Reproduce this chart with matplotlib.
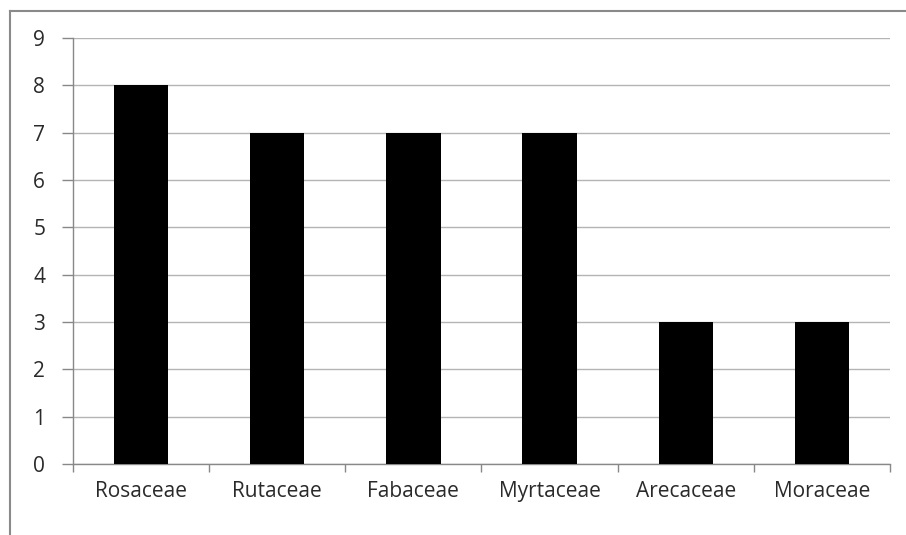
import matplotlib
matplotlib.use("Agg")
import matplotlib.pyplot as plt
from matplotlib.lines import Line2D
import numpy as np

categories = ["Rosaceae", "Rutaceae", "Fabaceae", "Myrtaceae", "Arecaceae", "Moraceae"]
values = [8, 7, 7, 7, 3, 3]
yticks = list(range(0, 10))

plt.rcParams['font.family'] = ['Open Sans', 'DejaVu Sans']

fig = plt.figure(figsize=(9.06, 5.35), dpi=100)
ax = fig.add_axes([73/906, 1-464/535, (890-73)/906, (464-38)/535])

x = np.arange(len(categories))
ax.bar(x, values, width=0.4, color="black", zorder=3)
ax.set_xlim(-0.5, len(categories) - 0.5)
ax.set_ylim(0, 9)
ax.set_yticks(yticks)
ax.set_yticklabels([str(v) for v in yticks], fontsize=15, color="#2a2a2a")
ax.yaxis.grid(True, color="#b4b4b4", linewidth=1, zorder=0)
ax.set_axisbelow(True)

ax.set_xticks(x)
ax.set_xticklabels(categories, fontsize=15, color="#2a2a2a")
ax.tick_params(axis='x', length=0, pad=12)
ax.set_xticks(np.arange(-0.5, len(categories)), minor=True)
ax.tick_params(axis='x', which='minor', length=6, color="#888888", width=1)
ax.tick_params(axis='y', length=8, color="#888888", width=1, pad=12)

for s in ["top", "right"]:
    ax.spines[s].set_visible(False)
for s in ["left", "bottom"]:
    ax.spines[s].set_color("#888888")
    ax.spines[s].set_linewidth(1)

# outer chart border (top and left visible)
fig.add_artist(Line2D([9.5/906, 1.0], [1-10.5/535, 1-10.5/535], transform=fig.transFigure, color="#8a8a8a", linewidth=1.5))
fig.add_artist(Line2D([9.5/906, 9.5/906], [0, 1-10.5/535], transform=fig.transFigure, color="#8a8a8a", linewidth=1.5))

fig.savefig("out.png", dpi=100)
